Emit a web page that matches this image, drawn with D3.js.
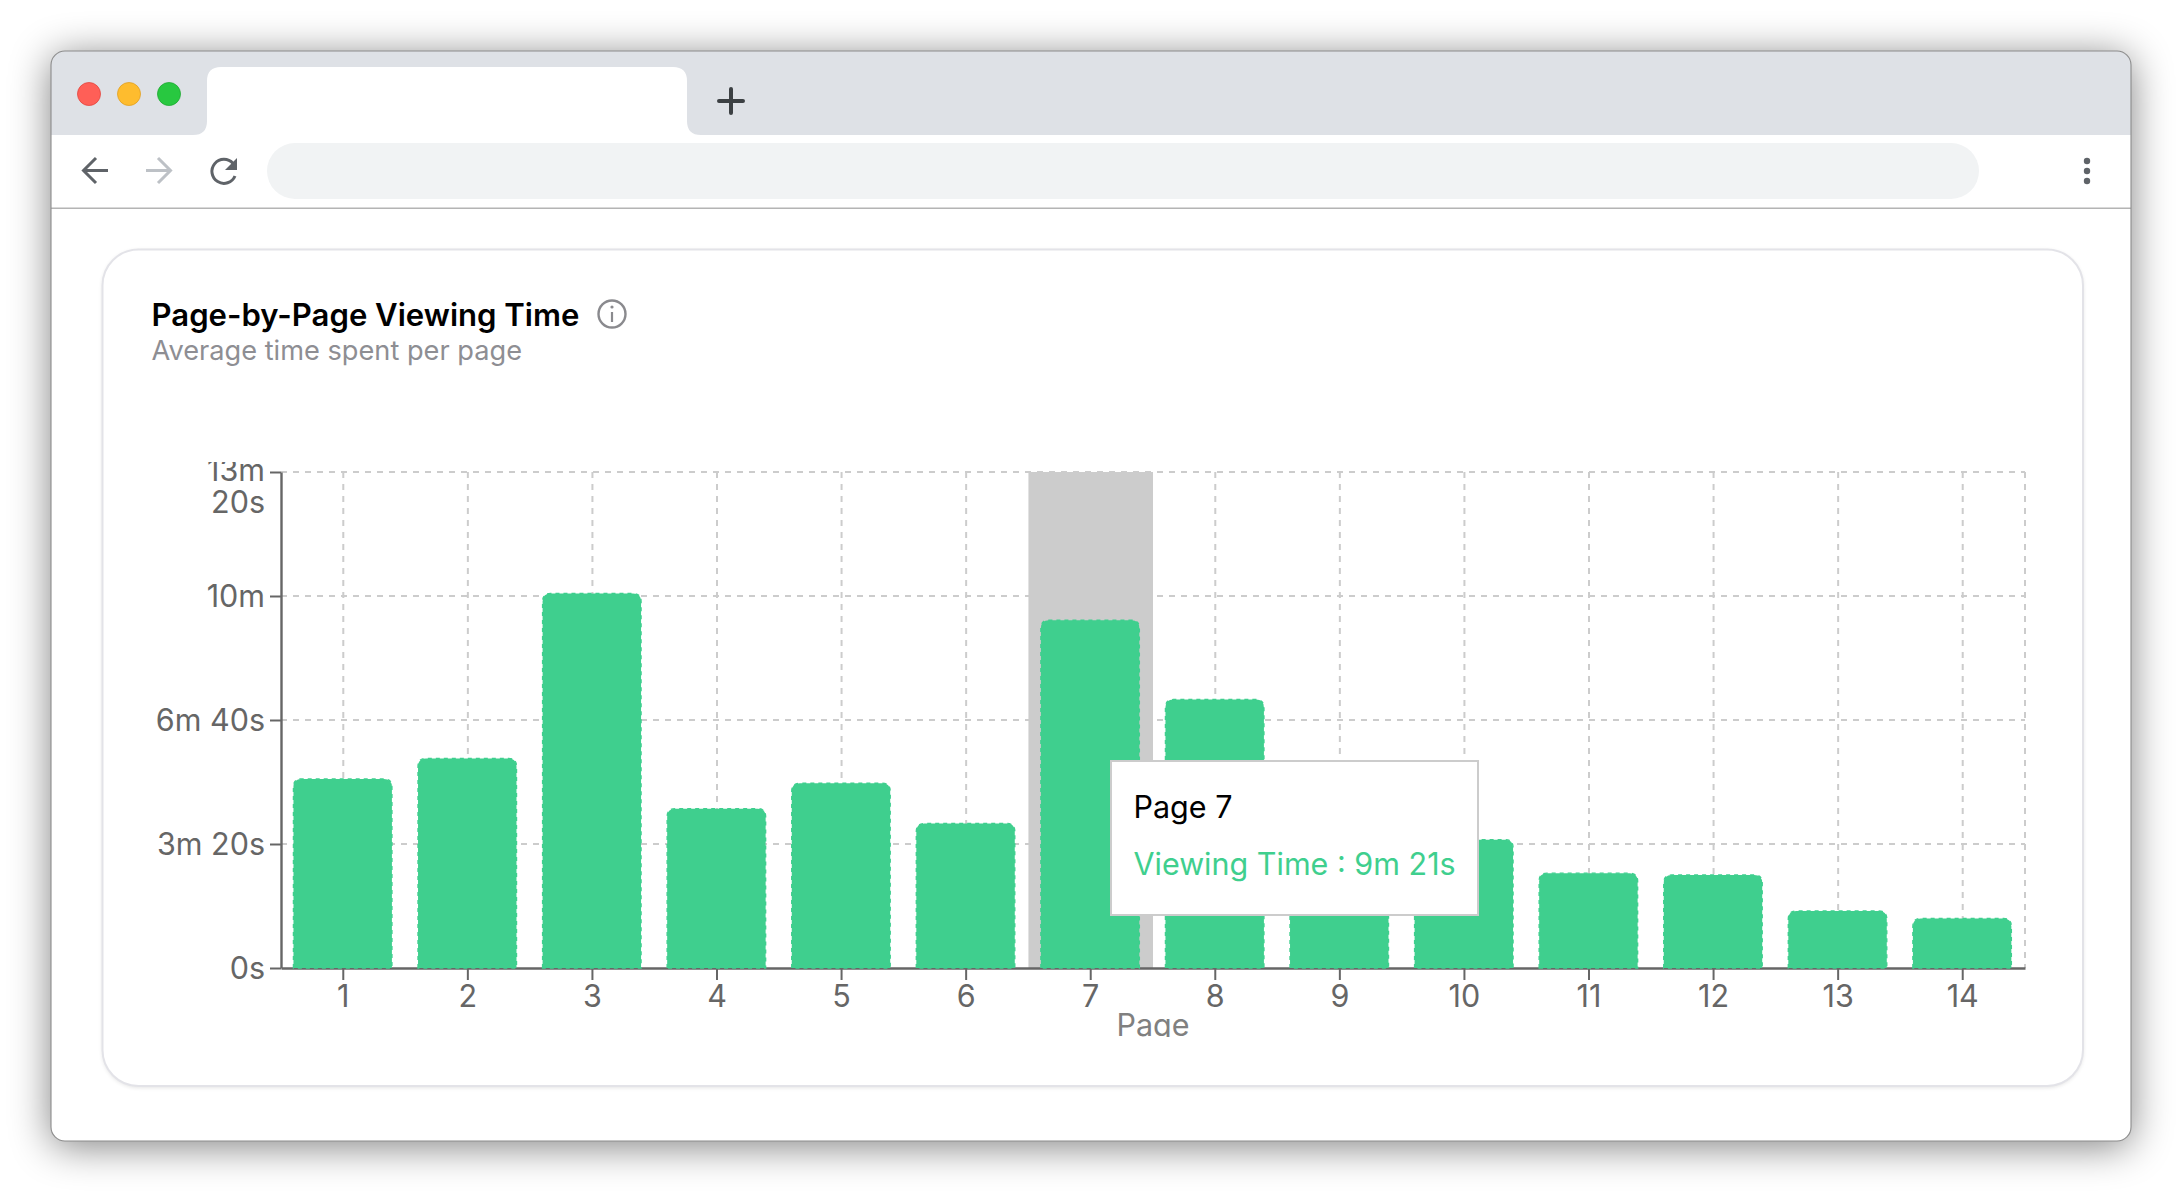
<!DOCTYPE html>
<html>
<head>
<meta charset="utf-8">
<script src="https://cdnjs.cloudflare.com/ajax/libs/d3/7.8.5/d3.min.js"></script>
<style>
  html, body { margin: 0; padding: 0; background: #fff; }
  svg { display: block; }
  text { font-family: Inter, "Noto Sans", sans-serif; }
</style>
</head>
<body>
<svg id="root" width="2182" height="1192"></svg>
<script>
// chart values, seconds per page
const pages = ["1", "2", "3", "4", "5", "6", "7", "8", "9", "10", "11", "12", "13", "14"];
const viewing_seconds = [305, 338, 604, 257, 298, 233, 561, 433, 240, 207, 153, 150, 92, 80];
const y_tick_values = [0, 200, 400, 600, 800];
const y_tick_labels = ["0s", "3m 20s", "6m 40s", "10m", "13m 20s"];
const active_page = "7";

const green = "#3fcf8e";
const svg = d3.select("#root");
const defs = svg.append("defs");

// ---- browser window ----
const win = { x: 51, y: 51, w: 2080, h: 1090, r: 14 };

defs.append("filter").attr("id", "win_shadow")
    .attr("x", "-10%").attr("y", "-15%").attr("width", "120%").attr("height", "130%")
    .append("feGaussianBlur").attr("stdDeviation", 20);
defs.append("clipPath").attr("id", "win_clip").append("rect")
    .attr("x", win.x).attr("y", win.y).attr("width", win.w).attr("height", win.h).attr("rx", win.r);

svg.append("rect").attr("x", win.x).attr("y", win.y + 5).attr("width", win.w).attr("height", win.h)
    .attr("rx", win.r).attr("fill", "#000").attr("opacity", 0.5).attr("filter", "url(#win_shadow)");
svg.append("rect").attr("x", win.x).attr("y", win.y).attr("width", win.w).attr("height", win.h)
    .attr("rx", win.r).attr("fill", "#fff");

const chrome = svg.append("g").attr("clip-path", "url(#win_clip)");
chrome.append("rect").attr("x", win.x).attr("y", win.y).attr("width", win.w).attr("height", 84).attr("fill", "#dee1e6");
chrome.append("path").attr("fill", "#fff")
    .attr("d", "M193,135 Q207,135 207,121 L207,81 Q207,67 221,67 L673,67 Q687,67 687,81 L687,121 Q687,135 701,135 Z");
chrome.append("rect").attr("x", win.x).attr("y", 207.5).attr("width", win.w).attr("height", 1.5).attr("fill", "#b4b4b4");

svg.append("rect").attr("x", win.x).attr("y", win.y).attr("width", win.w).attr("height", win.h)
    .attr("rx", win.r).attr("fill", "none").attr("stroke", "#8c8c8c").attr("stroke-width", 1.1);

[[89, "#ff5f57", "#e2463f"], [129, "#febc2e", "#dfa023"], [169, "#28c840", "#1fa832"]].forEach(function(d)
{
    svg.append("circle").attr("cx", d[0]).attr("cy", 94).attr("r", 11.5)
        .attr("fill", d[1]).attr("stroke", d[2]).attr("stroke-width", 0.8);
});

// new tab plus
svg.append("path").attr("d", "M731,89 V113 M719,101 H743").attr("fill", "none")
    .attr("stroke", "#3c4043").attr("stroke-width", 4).attr("stroke-linecap", "round");

// toolbar icons
svg.append("path").attr("d", "M108,170.5 H84 M96,158 L83.5,170.5 L96,183").attr("fill", "none")
    .attr("stroke", "#5f6368").attr("stroke-width", 3);
svg.append("path").attr("d", "M146,170.5 H170 M158,158 L170.5,170.5 L158,183").attr("fill", "none")
    .attr("stroke", "#bdc1c6").attr("stroke-width", 3);
svg.append("path").attr("d", "M235,176 A12,12 0 1 1 233,163.5").attr("fill", "none")
    .attr("stroke", "#5f6368").attr("stroke-width", 3);
svg.append("path").attr("d", "M237,158 V170 H225 Z").attr("fill", "#5f6368");

// address bar
svg.append("rect").attr("x", 267).attr("y", 143).attr("width", 1712).attr("height", 56)
    .attr("rx", 28).attr("fill", "#f1f3f4");

// menu dots
[161, 171, 181].forEach(function(cy)
{
    svg.append("circle").attr("cx", 2087).attr("cy", cy).attr("r", 3.2).attr("fill", "#5f6368");
});

// ---- card ----
defs.append("filter").attr("id", "card_shadow")
    .attr("x", "-2%").attr("y", "-2%").attr("width", "104%").attr("height", "104%")
    .append("feGaussianBlur").attr("stdDeviation", 2);
svg.append("rect").attr("x", 102.5).attr("y", 250.5).attr("width", 1980.5).attr("height", 837).attr("rx", 36)
    .attr("fill", "#000").attr("opacity", 0.12).attr("filter", "url(#card_shadow)");
svg.append("rect").attr("x", 102.5).attr("y", 249.5).attr("width", 1980.5).attr("height", 836.5).attr("rx", 36)
    .attr("fill", "#fff").attr("stroke", "#e3e3e8").attr("stroke-width", 2);

svg.append("text").attr("x", 151.5).attr("y", 325.5).attr("fill", "#000")
    .attr("font-size", 31.1).attr("font-weight", 600).text("Page-by-Page Viewing Time");
svg.append("text").attr("x", 151.5).attr("y", 360).attr("fill", "#8e8e93")
    .attr("font-size", 27.2).text("Average time spent per page");

// info icon
svg.append("circle").attr("cx", 612).attr("cy", 314).attr("r", 13.5).attr("fill", "none")
    .attr("stroke", "#8a8a8e").attr("stroke-width", 2.4);
svg.append("path").attr("d", "M612,312 V322").attr("stroke", "#8a8a8e").attr("stroke-width", 2.2);
svg.append("circle").attr("cx", 612).attr("cy", 307).attr("r", 1.6).attr("fill", "#8a8a8e");

// ---- chart ----
const left = 281, right = 2025, top_y = 472, bottom_y = 968;
const label_size = 30.5;

const x = d3.scaleBand().domain(pages).range([left, right]).paddingInner(0.2).paddingOuter(0.1);
const y = d3.scaleLinear().domain([0, 800]).range([bottom_y, top_y]);
const label_for = function(v) { return y_tick_labels[y_tick_values.indexOf(v)]; };

defs.append("clipPath").attr("id", "chart_clip").append("rect")
    .attr("x", 103).attr("y", 462).attr("width", 1980).attr("height", 575);

const chart = svg.append("g");

// grid
chart.append("g").selectAll("line").data(y_tick_values.filter(function(v) { return v > 0; })).enter().append("line")
    .attr("x1", left).attr("x2", right)
    .attr("y1", function(d) { return y(d); }).attr("y2", function(d) { return y(d); });
chart.append("g").selectAll("line").data(pages).enter().append("line")
    .attr("x1", function(d) { return x(d) + x.bandwidth() / 2; }).attr("x2", function(d) { return x(d) + x.bandwidth() / 2; })
    .attr("y1", top_y).attr("y2", bottom_y);
chart.append("line").attr("x1", right).attr("x2", right).attr("y1", top_y).attr("y2", bottom_y);
chart.selectAll("line").attr("stroke", "#ccc").attr("stroke-width", 2).attr("stroke-dasharray", "6 6");

// hover band
chart.append("rect")
    .attr("x", x(active_page) - (x.step() - x.bandwidth()) / 2).attr("y", top_y)
    .attr("width", x.step()).attr("height", bottom_y - top_y).attr("fill", "#ccc");

// axes
const x_axis = chart.append("g").attr("transform", "translate(0," + bottom_y + ")")
    .call(d3.axisBottom(x).tickSize(12).tickSizeOuter(0).tickPadding(11));
const y_axis = chart.append("g").attr("clip-path", "url(#chart_clip)").append("g")
    .attr("transform", "translate(" + left + ",0)")
    .call(d3.axisLeft(y).tickValues(y_tick_values).tickSize(11).tickSizeOuter(0).tickPadding(5).tickFormat(label_for));
chart.selectAll(".domain").attr("stroke", "#666").attr("stroke-width", 2.4);
chart.selectAll(".tick line").attr("stroke", "#666").attr("stroke-width", 2);
chart.selectAll(".tick text").attr("fill", "#666").attr("font-size", label_size)
    .attr("font-family", "Inter, 'Noto Sans', sans-serif");
x_axis.selectAll(".tick text").attr("dy", null).attr("y", 0)
    .attr("transform", "translate(0,39)");

// the widest y tick wraps over two lines, as in the source chart
y_axis.selectAll(".tick text").attr("dy", null).attr("y", 10.7).each(function(d)
{
    if (d !== 800) { return; }
    const words = label_for(d).split(" ");
    const label = d3.select(this).text(null);
    label.append("tspan").attr("x", -16).attr("y", 8.5).text(words[0]);
    label.append("tspan").attr("x", -16).attr("y", 40.5).text(words[1]);
});

chart.append("text").attr("x", (left + right) / 2).attr("y", 1035.5).attr("text-anchor", "middle")
    .attr("fill", "#808080").attr("font-size", label_size).attr("clip-path", "url(#chart_clip)").text("Page");

// bars
const radius = 8;
const bar_path = function(p, i)
{
    const x0 = x(p), x1 = x0 + x.bandwidth() - 1.2, y0 = y(viewing_seconds[i]);
    const path = d3.path();
    path.moveTo(x0, bottom_y);
    path.lineTo(x0, y0 + radius);
    path.quadraticCurveTo(x0, y0, x0 + radius, y0);
    path.lineTo(x1 - radius, y0);
    path.quadraticCurveTo(x1, y0, x1, y0 + radius);
    path.lineTo(x1, bottom_y);
    path.closePath();
    return path.toString();
};
chart.append("g").selectAll("path").data(pages).enter().append("path")
    .attr("d", bar_path).attr("fill", green).attr("stroke", green)
    .attr("stroke-width", 1.4).attr("stroke-dasharray", "4 4");

// tooltip
const tip_x = 1111, tip_y = 761, tip_w = 367, tip_h = 154;
const tip = svg.append("g");
tip.append("rect").attr("x", tip_x).attr("y", tip_y).attr("width", tip_w).attr("height", tip_h)
    .attr("fill", "#fff").attr("stroke", "#ccc").attr("stroke-width", 2);
tip.append("text").attr("x", 1133.5).attr("y", 818).attr("fill", "#000").attr("font-size", label_size)
    .text("Page " + active_page);
const active_value = viewing_seconds[pages.indexOf(active_page)];
tip.append("text").attr("x", 1133.5).attr("y", 874.5).attr("fill", green).attr("font-size", label_size)
    .text("Viewing Time : " + Math.floor(active_value / 60) + "m " + (active_value % 60) + "s");
</script>
</body>
</html>
